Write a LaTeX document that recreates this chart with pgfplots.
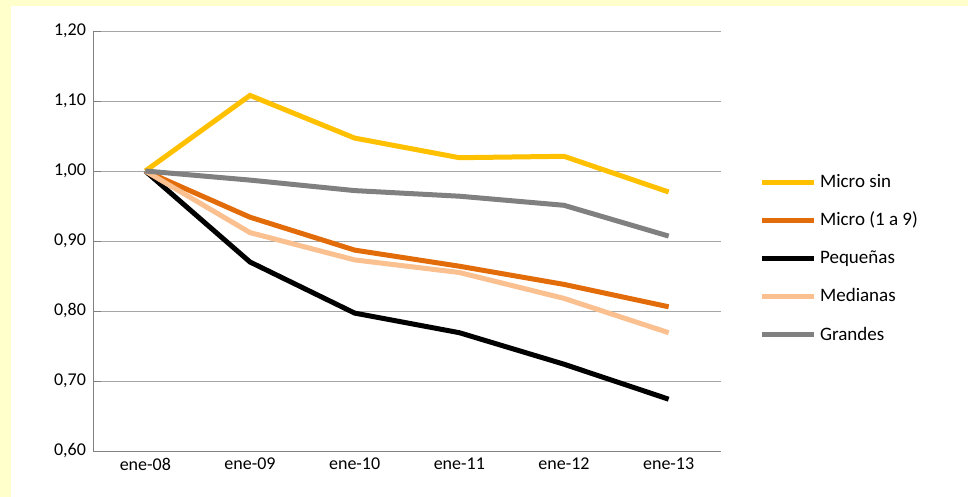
\documentclass[border=0pt]{standalone}
\usepackage{pgfplots}
\pgfplotsset{compat=1.18}
\usepackage{fontspec}
\setmainfont{Carlito}
\definecolor{bgy}{HTML}{FFFFCC}
\definecolor{cMs}{HTML}{FFC000}
\definecolor{cMi}{HTML}{E36C0A}
\definecolor{cMe}{HTML}{FAC090}
\definecolor{cGr}{HTML}{808080}
\begin{document}
\begin{tikzpicture}[x=1pt,y=1pt]
\fill[bgy] (0,0) rectangle (484,248.5);
\fill[white] (5.5,0) rectangle (484,245.5);
\begin{axis}[at={(46.5pt,23pt)},anchor=south west,scale only axis,
 width=314pt,height=210pt,
 xmin=-0.5,xmax=5.5,ymin=0.6,ymax=1.2,
 xtick={0,...,5},xticklabels={ene-08,ene-09,ene-10,ene-11,ene-12,ene-13},
 extra x ticks={-0.5,0.5,1.5,2.5,3.5,4.5,5.5},extra x tick labels={},
 extra x tick style={major tick length=4pt,tick style={gray}},
 x tick style={draw=none},
 ytick={0.6,0.7,...,1.21},
 yticklabel={\pgfmathprintnumber[fixed,fixed zerofill,precision=2,use comma]{\tick}},
 /pgf/number format/assume math mode=true,
 ymajorgrids,grid style={gray!70},
 axis line style={gray},y tick style={gray},major tick length=4pt,
 axis x line*=bottom,axis y line*=left,
 tick label style={font=\fontsize{9}{10}\selectfont},
 legend cell align=left,
 legend style={at={(1.06,0.67)},anchor=north west,draw=none,fill=none,
   font=\fontsize{9.5}{10}\selectfont,row sep=7pt,inner sep=0pt},
 legend image code/.code={\draw[#1,line width=2.5pt](0,0)--(26pt,0);},
 every axis plot/.append style={line width=2.5pt,no marks},
]
\addplot[cMs] coordinates {(0,1.00)(1,1.108)(2,1.047)(3,1.019)(4,1.021)(5,0.970)};
\addplot[cMi] coordinates {(0,1.00)(1,0.934)(2,0.887)(3,0.864)(4,0.838)(5,0.806)};
\addplot[black] coordinates {(0,1.00)(1,0.870)(2,0.797)(3,0.769)(4,0.724)(5,0.674)};
\addplot[cMe] coordinates {(0,1.00)(1,0.912)(2,0.873)(3,0.855)(4,0.818)(5,0.769)};
\addplot[cGr] coordinates {(0,1.00)(1,0.987)(2,0.972)(3,0.964)(4,0.951)(5,0.907)};
\legend{Micro sin,Micro (1 a 9),Pequeñas,Medianas,Grandes}
\end{axis}
\end{tikzpicture}
\end{document}
